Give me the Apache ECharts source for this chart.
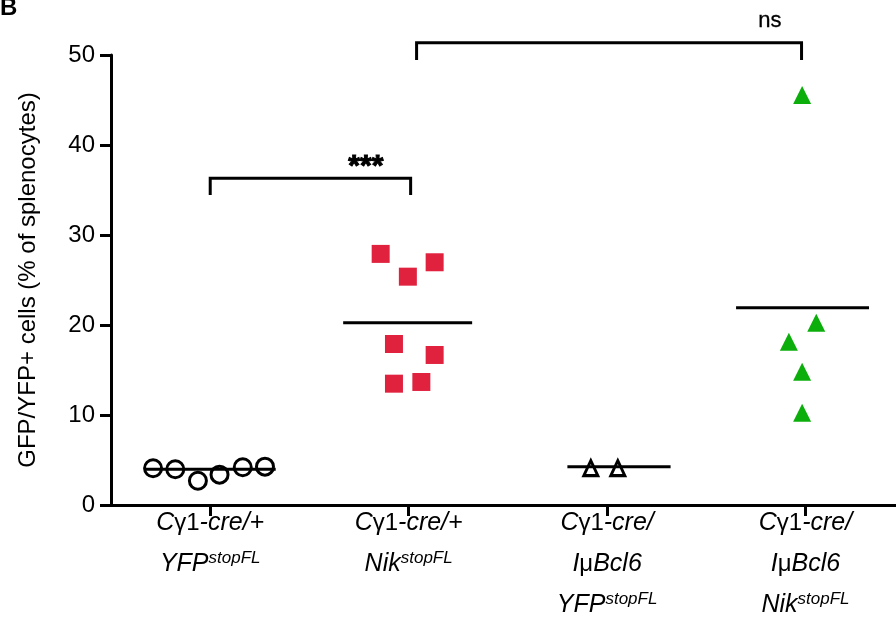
<!DOCTYPE html>
<html>
<head>
<meta charset="utf-8">
<script src="https://cdn.jsdelivr.net/npm/echarts@6/dist/echarts.min.js"></script>
<style>
html,body{margin:0;padding:0;background:#fff;}
#chart{width:896px;height:624px;}
</style>
</head>
<body>
<div id="chart"></div>
<script>
// ---- data ----
const categoryLabels = [
  '{i|C}{n|γ1}{i|-cre/+}\n{i|YFP}{s|stopFL}',
  '{i|C}{n|γ1}{i|-cre/+}\n{i|Nik}{s|stopFL}',
  '{i|C}{n|γ1}{i|-cre/}\n{i|I}{n|μ}{i|Bcl6}\n{i|YFP}{s|stopFL}',
  '{i|C}{n|γ1}{i|-cre/}\n{i|I}{n|μ}{i|Bcl6}\n{i|Nik}{s|stopFL}'
];
const categoryPositions = [1, 2, 3, 4];
const yTicks = [0, 10, 20, 30, 40, 50];

const g1X = [0.712, 0.824, 0.938, 1.047, 1.164, 1.276];
const g1Y = [4.08, 3.97, 2.70, 3.37, 4.19, 4.26];
const g2X = [1.859, 2.131, 1.996, 1.926, 2.131, 1.926, 2.064];
const g2Y = [27.9, 26.97, 25.37, 17.89, 16.67, 13.48, 13.67];
const g3X = [2.918, 3.054];
const g3Y = [4.1, 4.1];
const g4X = [3.983, 4.054, 3.916, 3.983, 3.983];
const g4Y = [45.56, 20.26, 18.15, 14.81, 10.26];

const meanY = [3.97, 20.26, 4.26, 21.93];
const meanStart = [0.673, 1.67, 2.80, 3.65];
const meanEnd = [1.33, 2.32, 3.32, 4.32];

// significance brackets
const bracketX1 = [1.0, 2.04];
const bracketX2 = [2.01, 3.98];
const bracketBottom = [34.44, 49.44];
const bracketTop = [36.3, 51.37];
const bracketText = ['***', 'ns'];
const bracketTextX = [1.784, 3.82];
const bracketTextY = [37.6, 53.8];

// ---- build ----
const FONT = '"Liberation Sans", Arial, Helvetica, sans-serif';
const zip = (xs, ys) => xs.map((x, i) => [x, ys[i]]);

const series = [];
series.push({
  type: 'scatter', data: zip(g1X, g1Y), symbol: 'circle', symbolSize: 17,
  itemStyle: { color: 'rgba(255,255,255,0)', borderColor: '#000', borderWidth: 3, opacity: 1 }, z: 5
});
series.push({
  type: 'scatter', data: zip(g2X, g2Y), symbol: 'rect', symbolSize: 18,
  itemStyle: { color: '#e0223f', opacity: 1 }, z: 5
});
series.push({
  type: 'scatter', data: zip(g3X, g3Y), symbol: 'triangle', symbolSize: [14, 15],
  itemStyle: { color: 'rgba(255,255,255,0)', borderColor: '#000', borderWidth: 3, opacity: 1 }, z: 5
});
series.push({
  type: 'scatter', data: zip(g4X, g4Y), symbol: 'triangle', symbolSize: [18, 18],
  itemStyle: { color: '#0cae0c', opacity: 1 }, z: 5
});
meanY.forEach((m, i) => {
  series.push({
    type: 'line', data: [[meanStart[i], m], [meanEnd[i], m]], symbol: 'none',
    lineStyle: { color: '#000', width: 3 }, z: 4, silent: true
  });
});
bracketText.forEach((t, i) => {
  series.push({
    type: 'line', clip: false, symbol: 'none', silent: true,
    data: [[bracketX1[i], bracketBottom[i]], [bracketX1[i], bracketTop[i]],
           [bracketX2[i], bracketTop[i]], [bracketX2[i], bracketBottom[i]]],
    lineStyle: { color: '#000', width: 3, join: 'miter' }, z: 4
  });
  series.push({
    type: 'scatter', clip: false, silent: true, symbolSize: 1,
    itemStyle: { color: 'rgba(0,0,0,0)' },
    data: [[bracketTextX[i], bracketTextY[i]]],
    label: { show: true, position: 'inside', formatter: t, color: '#000', opacity: 1,
             fontSize: i === 0 ? 30 : 22, fontWeight: i === 0 ? 'bold' : 'normal',
             fontFamily: FONT, textBorderColor: '#000', textBorderWidth: i === 0 ? 1 : 0.3 },
    z: 6
  });
});

const chart = echarts.init(document.getElementById('chart'));
chart.setOption({
  animation: false,
  backgroundColor: '#ffffff',
  grid: { left: 111, right: 0, top: 55, bottom: 119, containLabel: false, outerBoundsMode: 'none' },
  graphic: [{
    type: 'text', left: 0, top: -4,
    style: { text: 'B', font: 'bold 24px ' + FONT, fill: '#000' }
  }],
  xAxis: {
    type: 'value', min: 0.5, max: 4.456,
    splitLine: { show: false },
    axisLine: { show: true, lineStyle: { color: '#000', width: 3 } },
    axisTick: { show: true, customValues: categoryPositions, length: 11, lineStyle: { color: '#000', width: 3 } },
    axisLabel: {
      show: true, customValues: categoryPositions, margin: -2, color: '#000',
      fontFamily: FONT, fontSize: 25, lineHeight: 41,
      formatter: (v) => categoryLabels[Math.round(v) - 1],
      rich: {
        i: { fontStyle: 'italic', fontSize: 25, lineHeight: 41, fontFamily: FONT, color: '#000' },
        n: { fontSize: 24, lineHeight: 41, fontFamily: FONT, color: '#000' },
        s: { fontStyle: 'italic', fontSize: 17, lineHeight: 41, fontFamily: FONT, color: '#000', padding: [0, 0, 13, 0] }
      }
    }
  },
  yAxis: {
    type: 'value', min: 0, max: 50, interval: 10,
    splitLine: { show: false },
    axisLine: { show: true, lineStyle: { color: '#000', width: 3 } },
    axisTick: { show: true, length: 11, lineStyle: { color: '#000', width: 3 } },
    axisLabel: { color: '#000', fontSize: 24, fontFamily: FONT, margin: 16,
                 formatter: (v) => yTicks.includes(v) ? String(v) : '' },
    name: 'GFP/YFP+ cells (% of splenocytes)',
    nameLocation: 'middle', nameGap: 71, nameRotate: 90,
    nameTextStyle: { color: '#000', fontSize: 24, fontFamily: FONT }
  },
  series: series
});
</script>
</body>
</html>
